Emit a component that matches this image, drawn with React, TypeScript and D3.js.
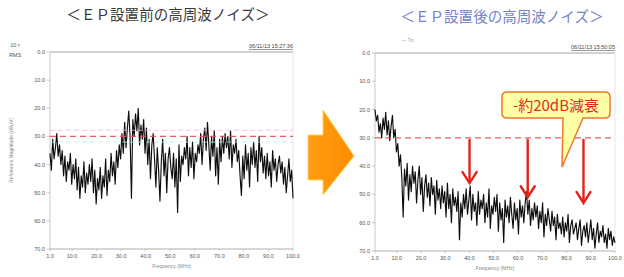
import React from 'react';
import * as d3 from 'd3';

// sweep: 1 MHz .. 100 MHz, equally spaced points
const sweepStart = 1;
const sweepStop = 100;

// level readings (dB below reference, 0 at top) before EP
const beforeLevels = [
  36, 42, 31, 38, 34, 29, 37, 33, 40, 35,
  44, 37, 46, 39, 42, 36, 47, 40, 45, 38,
  49, 41, 52, 44, 48, 39, 50, 43, 47, 40,
  46, 38, 50, 42, 54, 45, 49, 41, 52, 44,
  48, 38, 51, 42, 46, 36, 44, 39, 47, 35,
  41, 33, 38, 29, 36, 25, 34, 27, 21, 30,
  52, 24, 30, 22, 28, 20, 33, 26, 31, 24,
  36, 27, 40, 31, 45, 33, 29, 38, 48, 34,
  42, 53, 39, 31, 44, 36, 50, 38, 34, 41,
  45, 36, 48, 38, 57, 33, 46, 37, 40, 34,
  38, 30, 44, 34, 41, 32, 45, 36, 39, 33,
  36, 29, 40, 31, 27, 35, 25, 33, 42, 30,
  37, 28, 44, 34, 47, 31, 39, 30, 36, 29,
  34, 30, 38, 28, 41, 33, 36, 31, 39, 35,
  44, 51, 37, 45, 33, 42, 36, 48, 34, 40,
  32, 41, 35, 46, 30, 39, 34, 43, 37, 45,
  36, 44, 39, 48, 35, 42, 38, 46, 40, 37,
  43, 39, 47, 41, 50, 44, 38, 46, 42, 52,
];

// level readings after EP
const afterLevels = [
  20, 24, 22, 28, 25, 30, 23, 27, 21, 29,
  24, 31, 26, 22, 30, 27, 35, 32, 40, 36,
  44, 58, 41, 47, 39, 52, 43, 49, 40, 46,
  42, 53, 45, 40, 50, 44, 56, 47, 43, 51,
  46, 54, 44, 50, 47, 57, 45, 52, 48, 55,
  47, 53, 49, 58, 46, 55, 50, 60, 48, 54,
  51, 56, 49, 66, 53, 58, 50, 55, 48, 57,
  52, 47, 59, 50, 56, 53, 61, 49, 57, 52,
  55, 50, 60, 53, 58, 48, 62, 54, 57, 51,
  56, 50, 63, 53, 59, 55, 67, 52, 58, 54,
  60, 51, 57, 62, 53, 59, 55, 64, 52, 58,
  54, 60, 53, 49, 57, 52, 61, 55, 59, 53,
  58, 54, 62, 56, 60, 53, 65, 57, 61, 55,
  59, 63, 56, 61, 58, 66, 57, 62, 60, 64,
  58, 65, 60, 63, 57, 67, 61, 59, 64, 62,
  60, 66, 62, 59, 68, 63, 61, 65, 60, 67,
  63, 59, 66, 62, 69, 64, 60, 67, 63, 65,
  61, 67, 64, 69, 62, 66, 63, 68, 65, 67,
];

const xTicks = [1, 10, 20, 30, 40, 50, 60, 70, 80, 90, 100];
const yTicks = [0, 10, 20, 30, 40, 50, 60, 70];
const limitLevel = 30;
const arrowFreqs = [40, 64, 87];
const arrowEnds = [46, 51, 53];

const titles = ['＜ＥＰ設置前の高周波ノイズ＞', '＜ＥＰ設置後の高周波ノイズ＞'];
const stamps = ['06/11/13 15:27:36', '06/11/13 15:50:05'];
const calloutText = '-約20dB減衰';

const jp = '"Noto Sans CJK JP", "Noto Sans", sans-serif';
const small = 'Arial, "Liberation Sans", sans-serif';

type PanelProps = {
  levels: number[];
  x0: number; x1: number; y0: number; y1: number;
  stamp: string;
  showRms?: boolean;
  children?: (x: d3.ScaleLinear<number, number>, y: d3.ScaleLinear<number, number>) => React.ReactNode;
};

const Panel = ({ levels, x0, x1, y0, y1, stamp, showRms, children }: PanelProps) => {
  const x = d3.scaleLinear().domain([sweepStart, sweepStop]).range([x0, x1]);
  const y = d3.scaleLinear().domain([0, 70]).range([y0, y1]);
  const step = (sweepStop - sweepStart) / (levels.length - 1);
  const line = d3.line<number>()
    .x((_, i) => x(sweepStart + i * step))
    .y(d => y(d));

  return (
    <g>
      {/* frame */}
      <line x1={x0} x2={x1} y1={y0} y2={y0} stroke="#8a8a8a" strokeWidth={0.8} />
      <line x1={x1} x2={x1} y1={y0} y2={y1} stroke="#e2e2e2" strokeWidth={0.8} />
      <line x1={x0} x2={x0} y1={y0} y2={y1} stroke="#bbb" strokeWidth={0.8} />
      <line x1={x0} x2={x1} y1={y1} y2={y1} stroke="#999" strokeWidth={0.8} />

      {yTicks.map(t => (
        <g key={'y' + t}>
          <line x1={x0 - 3} x2={x0} y1={y(t)} y2={y(t)} stroke="#aaa" strokeWidth={0.6} />
          <text x={x0 - 5} y={y(t) + 2} fontSize={5.5} fill="#555" textAnchor="end" fontFamily={small}>
            {t.toFixed(1)}
          </text>
        </g>
      ))}
      {xTicks.map(t => (
        <g key={'x' + t}>
          <line x1={x(t)} x2={x(t)} y1={y1} y2={y1 + 2} stroke="#aaa" strokeWidth={0.6} />
          <text x={x(t)} y={y1 + 9} fontSize={5.5} fill="#555" textAnchor="middle" fontFamily={small}>
            {t.toFixed(1)}
          </text>
        </g>
      ))}

      <text x={(x0 + x1) / 2} y={y1 + 19} fontSize={5} fill="#888" textAnchor="middle" fontFamily={small}>
        Frequency (MHz)
      </text>
      <text x={x1} y={y0 - 4} fontSize={5.5} fill="#444" textAnchor="end" fontFamily={small}
        textDecoration="underline">{stamp}</text>
      {showRms && (
        <g fontFamily={small} fill="#555" fontSize={5.5}>
          <text x={15} y={47} textAnchor="middle">10 r</text>
          <text x={15} y={57} textAnchor="middle">RMS</text>
          <text transform={`translate(13,${(y0 + y1) / 2}) rotate(-90)`} textAnchor="middle" fontSize={5} fill="#888">
            Reference Magnitude (dBuV)
          </text>
        </g>
      )}

      <path d={line(levels) ?? ''} fill="none" stroke="#111" strokeWidth={1.15}
        strokeLinejoin="round" filter="url(#soft)" />

      <line x1={x0} x2={x1} y1={y(limitLevel)} y2={y(limitLevel)} stroke="#e0504a"
        strokeWidth={1.3} strokeDasharray="6 4" opacity={0.9} />
      {children && children(x, y)}
    </g>
  );
};

export default function App() {
  return (
    <svg width={624} height={277} style={{ position: 'absolute', left: 0, top: 0, background: '#fff' }}>
      <defs>
        <filter id="soft" x="-5%" y="-5%" width="110%" height="110%">
          <feGaussianBlur stdDeviation={0.35} />
        </filter>
        <linearGradient id="orange" x1="0" x2="1" y1="0" y2="0">
          <stop offset="0" stopColor="#ff9d12" />
          <stop offset="1" stopColor="#ff8c00" />
        </linearGradient>
      </defs>

      <text x={168} y={20} fontSize={14.5} fill="#3a3a3a" textAnchor="middle" fontFamily={jp}
        textLength={203} lengthAdjust="spacingAndGlyphs">{titles[0]}</text>
      <text x={502} y={22} fontSize={14.5} fill="#7383c9" textAnchor="middle" fontFamily={jp}
        textLength={203} lengthAdjust="spacingAndGlyphs">{titles[1]}</text>

      <Panel levels={beforeLevels} x0={50} x1={293} y0={52} y1={249} stamp={stamps[0]} showRms>
        {(x, y) => (
          <g>
            <line x1={x(sweepStart)} x2={x(sweepStop)} y1={y(27.8)} y2={y(27.8)} stroke="#f3b8c8" strokeWidth={0.8} strokeDasharray="5 3" />
            <line x1={x(sweepStart)} x2={x(sweepStop)} y1={y(32)} y2={y(32)} stroke="#bfe8e0" strokeWidth={0.8} strokeDasharray="5 3" />
          </g>
        )}
      </Panel>

      <Panel levels={afterLevels} x0={375} x1={615} y0={53} y1={251} stamp={stamps[1]}>
        {(x, y) => (
          <g>
            <text x={402} y={42} fontSize={4.5} fill="#999" fontFamily={small}>— Trc</text>
            {arrowFreqs.map((f, i) => {
              const ax = x(f);
              const top = y(limitLevel) + 2;
              const tip = y(arrowEnds[i]);
              return (
                <g key={f} stroke="#e3221c" strokeWidth={2.4} fill="none" strokeLinecap="round">
                  <line x1={ax} x2={ax} y1={top} y2={tip - 1} />
                  <polyline points={`${ax - 7},${tip - 11} ${ax},${tip} ${ax + 7},${tip - 11}`} strokeLinejoin="miter" />
                </g>
              );
            })}
            <path d="M507,92 H605 Q610,92 610,97 V113 Q610,118 605,118 H583 L562,167 L563,118 H507 Q502,118 502,113 V97 Q502,92 507,92 Z"
              fill="#ffffa6" stroke="#ec7a2c" strokeWidth={1.5} />
            <text x={556} y={111} fontSize={15} fill="#e8281e" textAnchor="middle" fontFamily={jp}>{calloutText}</text>
          </g>
        )}
      </Panel>

      <polygon points="308,135 323,135 323,110 354,156 323,195 323,180 308,180"
        fill="url(#orange)" stroke="#ffd34d" strokeWidth={1} strokeLinejoin="round" />
    </svg>
  );
}
